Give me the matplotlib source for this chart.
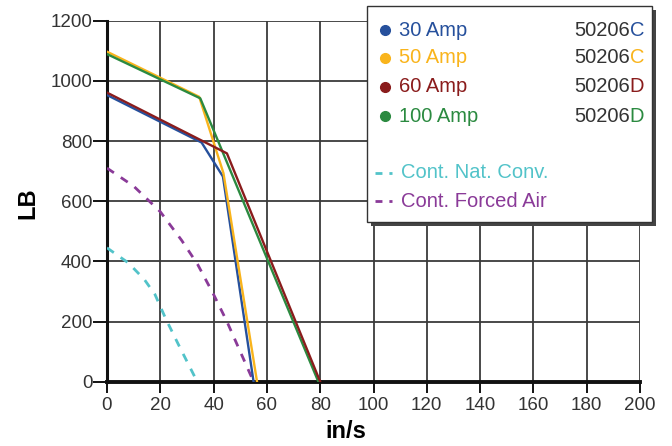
import matplotlib
matplotlib.use("Agg")
import matplotlib.pyplot as plt
from matplotlib.patches import Rectangle
from matplotlib.lines import Line2D
from matplotlib.text import Annotation

plt.rcParams['font.family'] = ['Liberation Sans', 'DejaVu Sans']

# force curves (in/s vs LB)
amp30_x = [0, 35.5, 43.5, 55]
amp30_y = [953, 795, 682, 0]
amp50_x = [0, 34.6, 43.7, 56.3]
amp50_y = [1097, 947, 693, 0]
amp60_x = [0, 45, 80]
amp60_y = [961, 759, 0]
amp100_x = [0, 35, 79.3]
amp100_y = [1089, 942, 0]

# continuous ratings (dashed)
nat_x = [0, 8, 14, 18, 22, 27, 33]
nat_y = [445, 395, 340, 290, 210, 120, 15]
forced_x = [0, 10, 20, 28, 34, 40, 45, 50, 55]
forced_y = [710, 650, 565, 470, 390, 290, 200, 100, 0]

series_names = ['30 Amp', '50 Amp', '60 Amp', '100 Amp']
part_numbers = ['50206', '50206', '50206', '50206']
part_suffix = ['C', 'C', 'D', 'D']
dash_names = ['Cont. Nat. Conv.', 'Cont. Forced Air']

x_ticks = list(range(0, 201, 20))
y_ticks = list(range(0, 1201, 200))

BLUE = '#26509c'
YELLOW = '#f9b41c'
RED = '#8a1c1c'
GREEN = '#2b8a40'
CYAN = '#52c3c9'
PURPLE = '#8a3a98'
colors = [BLUE, YELLOW, RED, GREEN]
dash_colors = [CYAN, PURPLE]

W, H = 672, 446
fig = plt.figure(figsize=(W / 100, H / 100), dpi=100)
fig.patch.set_facecolor('white')


def fx(px):
    return px / W


def fy(py):
    return 1 - py / H


ax = fig.add_axes([fx(107), fy(381.7), fx(640) - fx(107), fy(20.7) - fy(381.7)])

ax.plot(nat_x, nat_y, color=CYAN, lw=2, ls=(0, (3, 3)), zorder=3)
ax.plot(forced_x, forced_y, color=PURPLE, lw=2, ls=(0, (3, 3)), zorder=3)
ax.plot(amp30_x, amp30_y, color=BLUE, lw=1.7, zorder=4)
ax.plot(amp50_x, amp50_y, color=YELLOW, lw=1.7, zorder=4)
ax.plot(amp100_x, amp100_y, color=GREEN, lw=1.7, zorder=4)
ax.plot(amp60_x, amp60_y, color=RED, lw=1.7, zorder=5)

ax.set_xlim(0, 200)
ax.set_ylim(0, 1200)
ax.set_xticks(x_ticks)
ax.set_yticks(y_ticks)
ax.grid(True, color='#3a3a3a', lw=1.3)
ax.set_axisbelow(True)
for s in ['top', 'right']:
    ax.spines[s].set_visible(False)
ax.spines['left'].set_linewidth(2.2)
ax.spines['bottom'].set_linewidth(2.8)
for s in ['left', 'bottom']:
    ax.spines[s].set_color('#111111')
ax.tick_params(direction='out', width=1.3, labelsize=13.5, labelcolor='#333333')
ax.tick_params(axis='x', length=8, pad=3)
ax.tick_params(axis='y', length=10, pad=0.5)

fig.text(fx(28), fy(203), 'LB', rotation=90, ha='center', va='center',
         fontsize=17, fontweight='bold')
fig.text(fx(346), fy(431), 'in/s', ha='center', va='center',
         fontsize=17, fontweight='bold')

# legend box with shadow
bx0, by0, bx1, by1 = 367, 6, 652, 222
fig.add_artist(Rectangle((fx(bx0 + 4), fy(by1 + 4)), fx(bx1 - bx0), fy(by0) - fy(by1),
                         transform=fig.transFigure, facecolor='#444444',
                         edgecolor='none', zorder=10))
fig.add_artist(Rectangle((fx(bx0), fy(by1)), fx(bx1 - bx0), fy(by0) - fy(by1),
                         transform=fig.transFigure, facecolor='white',
                         edgecolor='#333333', lw=1, zorder=11))

LEG_FS = 14.5
row_y = [30, 58, 87, 116]
for name, pn, suf, c, ry in zip(series_names, part_numbers, part_suffix, colors, row_y):
    fig.add_artist(Line2D([fx(385)], [fy(ry)], marker='o', ms=7, color=c,
                          transform=fig.transFigure, zorder=12))
    fig.text(fx(399), fy(ry), name, color=c, fontsize=LEG_FS, va='center', zorder=12)
    t = fig.text(fx(574), fy(ry), pn, color='#333333', fontsize=LEG_FS,
                 va='center', zorder=12)
    fig.add_artist(Annotation(suf, xy=(1, 0), xycoords=t, ha='left', va='bottom',
                              color=c, fontsize=LEG_FS, zorder=12))

dash_y = [173, 201]
for name, c, ry in zip(dash_names, dash_colors, dash_y):
    fig.add_artist(Line2D([fx(375), fx(392)], [fy(ry), fy(ry)], color=c, lw=2,
                          ls=(0, (2.5, 2.5)), transform=fig.transFigure, zorder=12))
    fig.text(fx(401), fy(ry), name, color=c, fontsize=LEG_FS, va='center', zorder=12)

fig.savefig('out.png', dpi=100)
